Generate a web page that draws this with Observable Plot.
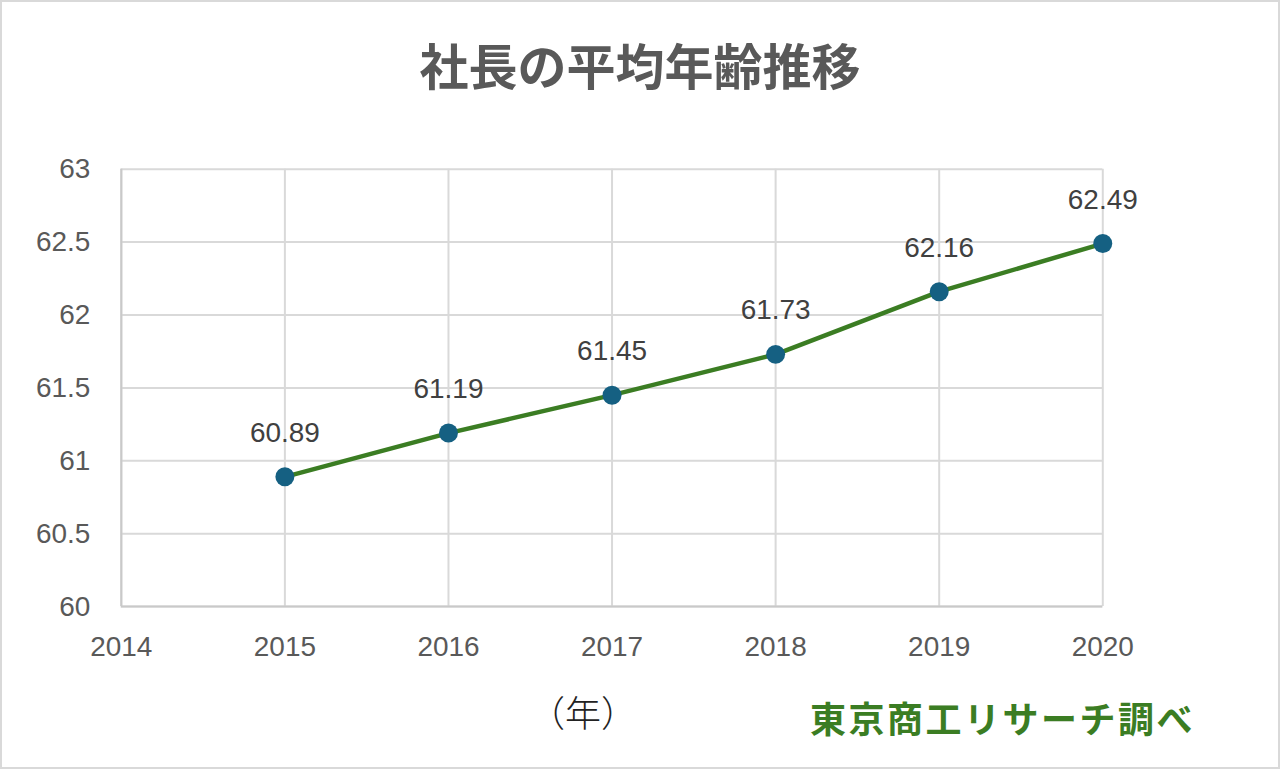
<!DOCTYPE html>
<html>
<head>
<meta charset="utf-8">
<script src="https://cdn.jsdelivr.net/npm/d3@7"></script>
<script src="https://cdn.jsdelivr.net/npm/@observablehq/plot@0.6"></script>
<style>
  html, body { margin: 0; padding: 0; background: #fff; }
  #wrap { position: relative; width: 1280px; height: 769px; box-sizing: border-box; border: 2px solid #d9d9d9; overflow: hidden; background: #fff; }
  #title { position: absolute; left: 0; top: 32px; width: 1276px; text-align: center; font-family: "Noto Sans CJK JP", sans-serif; font-weight: 700; font-size: 49px; letter-spacing: 0px; color: #595959; line-height: 60px; white-space: nowrap; }
  #chart { position: absolute; left: -2px; top: -2px; }
  #unit { position: absolute; left: 527px; top: 689px; font-family: "Noto Sans CJK JP", sans-serif; font-weight: 300; font-size: 36px; color: #222; line-height: 40px; white-space: nowrap; }
  #source { position: absolute; left: 808px; top: 693px; font-family: "Noto Sans CJK JP", sans-serif; font-weight: 700; font-size: 36px; letter-spacing: 2.5px; color: #3b7d23; line-height: 44px; white-space: nowrap; }
</style>
</head>
<body>
<div id="wrap">
  <div id="title">社長の平均年齢推移</div>
  <div id="chart"></div>
  <div id="unit">（年）</div>
  <div id="source">東京商工リサーチ調べ</div>
</div>
<script>
const years = [2015, 2016, 2017, 2018, 2019, 2020];
const ages = [60.89, 61.19, 61.45, 61.73, 62.16, 62.49];
const xTicks = [2014, 2015, 2016, 2017, 2018, 2019, 2020];
const yTicks = [60, 60.5, 61, 61.5, 62, 62.5, 63];

const data = years.map((y, i) => ({year: y, age: ages[i]}));

const chart = Plot.plot({
  width: 1280,
  height: 769,
  marginTop: 169,
  marginBottom: 162,
  marginLeft: 121,
  marginRight: 176,
  style: { fontFamily: "'Liberation Sans', Arial, sans-serif", background: "transparent" },
  x: { domain: [2014, 2020] },
  y: { domain: [60, 63] },
  marks: [
    Plot.gridX(xTicks, { stroke: "#d9d9d9", strokeOpacity: 1, strokeWidth: 2 }),
    Plot.gridY(yTicks, { stroke: "#d9d9d9", strokeOpacity: 1, strokeWidth: 2 }),
    Plot.ruleY([60], { stroke: "#c9c9c9", strokeWidth: 2 }),
    Plot.ruleX([2014], { stroke: "#c9c9c9", strokeWidth: 2 }),
    Plot.axisX(xTicks, { tickSize: 0, tickPadding: 30, fontSize: 28, fill: "#595959", tickFormat: d => String(d), label: null }),
    Plot.axisY(yTicks, { tickSize: 0, tickPadding: 31, fontSize: 28, fill: "#595959", tickFormat: d => String(d), label: null }),
    Plot.line(data, { x: "year", y: "age", stroke: "#3b7d23", strokeWidth: 4.5 }),
    Plot.dot(data, { x: "year", y: "age", r: 9.5, fill: "#156082", stroke: "none" }),
    Plot.text(data, { x: "year", y: "age", text: d => d.age.toFixed(2), dy: -44, fontSize: 28, fill: "#404040" })
  ]
});
document.getElementById("chart").appendChild(chart);
</script>
</body>
</html>
